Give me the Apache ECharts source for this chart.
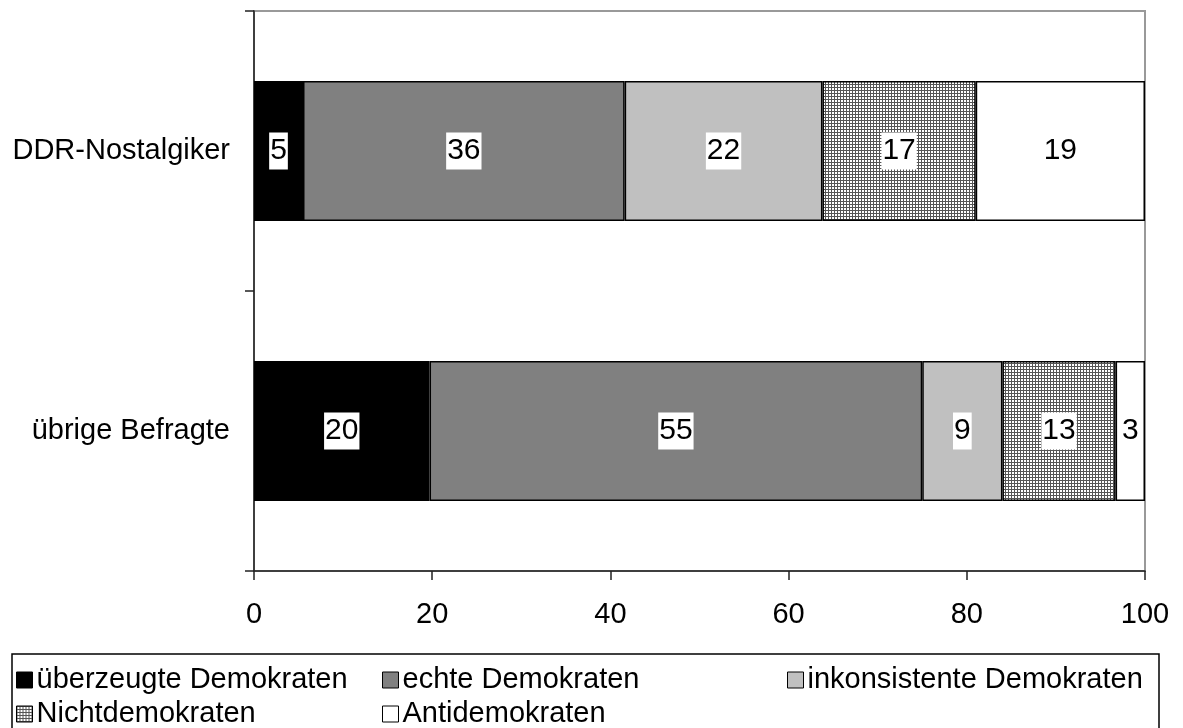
<!DOCTYPE html>
<html>
<head>
<meta charset="utf-8">
<script src="https://cdn.jsdelivr.net/npm/echarts@6/dist/echarts.min.js"></script>
<style>
html,body{margin:0;padding:0;background:#fff;}
#chart{width:1183px;height:728px;}
</style>
</head>
<body>
<div id="chart"></div>
<script>
// Categories (top to bottom)
const categories = ['DDR-Nostalgiker', 'übrige Befragte'];
const seriesNames = ['überzeugte Demokraten', 'echte Demokraten', 'inkonsistente Demokraten', 'Nichtdemokraten', 'Antidemokraten'];
// Values per series: [DDR-Nostalgiker, übrige Befragte]
const ueberzeugte = [5.5, 19.7];
const echte = [36.1, 55.3];
const inkonsistente = [22.2, 9.0];
const nichtdemokraten = [17.2, 12.7];
const antidemokraten = [19.0, 3.3];
// Printed labels
const lblUeberzeugte = [5, 20];
const lblEchte = [36, 55];
const lblInkonsistente = [22, 9];
const lblNicht = [17, 13];
const lblAnti = [19, 3];
const xTicks = [0, 20, 40, 60, 80, 100];

const FONT = "'Liberation Sans', Arial, sans-serif";

function makePattern() {
  const c = document.createElement('canvas');
  c.width = 3; c.height = 3;
  const g = c.getContext('2d');
  g.fillStyle = '#ffffff';
  g.fillRect(0, 0, 3, 3);
  g.fillStyle = '#555555';
  g.fillRect(0, 0, 3, 1);
  g.fillRect(0, 0, 1, 3);
  return c;
}
const pattern = { image: makePattern(), repeat: 'repeat' };

const seriesData = [ueberzeugte, echte, inkonsistente, nichtdemokraten, antidemokraten];
const seriesLabels = [lblUeberzeugte, lblEchte, lblInkonsistente, lblNicht, lblAnti];
const colors = ['#000000', '#808080', '#c0c0c0', pattern, '#ffffff'];

const chart = echarts.init(document.getElementById('chart'), null, { renderer: 'canvas' });

const series = seriesNames.map((name, i) => ({
  name: name,
  type: 'bar',
  stack: 'total',
  barWidth: '50%',
  data: seriesData[i],
  itemStyle: { color: colors[i], borderColor: '#000', borderWidth: 1.5 },
  label: {
    show: true,
    position: 'inside',
    formatter: (p) => String(seriesLabels[i][p.dataIndex]),
    color: '#000',
    fontSize: 30,
    fontFamily: FONT,
    backgroundColor: '#fff',
    padding: [4, 1, 2, 1],
    lineHeight: 31
  },
  emphasis: { disabled: true },
  animation: false
}));

// one legend per entry, laid out as a 3-column grid
function legendItem(name, left, top) {
  return {
    orient: 'horizontal',
    left: left,
    top: top,
    padding: 0,
    itemWidth: 16,
    itemHeight: 16,
    icon: 'rect',
    itemStyle: { borderColor: '#000', borderWidth: 1 },
    textStyle: { fontSize: 29, fontFamily: FONT, color: '#000', lineHeight: 34, padding: [0, 0, 0, -1] },
    selectedMode: false,
    data: [name]
  };
}

chart.setOption({
  backgroundColor: '#fff',
  animation: false,
  grid: {
    left: 254, right: 38, top: 11, bottom: 157,
    show: true, borderColor: '#999', borderWidth: 2, backgroundColor: 'transparent'
  },
  xAxis: {
    type: 'value',
    min: 0, max: 100, interval: 20,
    axisLine: { show: true, lineStyle: { color: '#222', width: 1.5 } },
    axisTick: { show: true, length: 9, lineStyle: { color: '#222', width: 1.5 } },
    splitLine: { show: false },
    axisLabel: { fontSize: 29, fontFamily: FONT, color: '#000', margin: 29,
      formatter: (v) => xTicks.includes(v) ? String(v) : '' }
  },
  yAxis: {
    type: 'category',
    inverse: true,
    data: categories,
    axisLine: { show: true, lineStyle: { color: '#222', width: 1.5 } },
    axisTick: { show: true, length: 9, lineStyle: { color: '#222', width: 1.5 } },
    axisLabel: { fontSize: 29, fontFamily: FONT, color: '#000', margin: 24 }
  },
  legend: [
    legendItem(seriesNames[0], 16, 663),
    legendItem(seriesNames[1], 382, 663),
    legendItem(seriesNames[2], 787, 663),
    legendItem(seriesNames[3], 16, 697),
    legendItem(seriesNames[4], 382, 697)
  ],
  graphic: [{
    type: 'rect',
    shape: { x: 12, y: 654, width: 1147, height: 90 },
    style: { fill: 'none', stroke: '#000', lineWidth: 1.5 },
    z: 100
  }],
  series: series
});
</script>
</body>
</html>
